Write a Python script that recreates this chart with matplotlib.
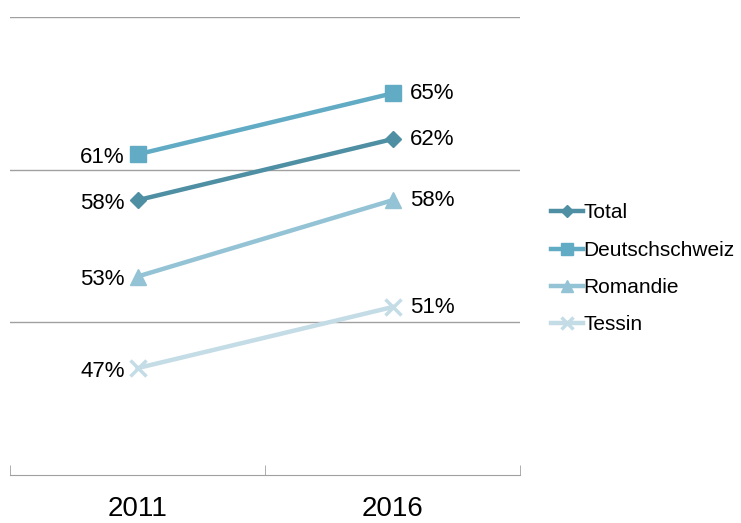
import matplotlib
matplotlib.use("Agg")
import matplotlib.pyplot as plt

plt.rcParams["font.family"] = ["Liberation Sans", "DejaVu Sans"]

years = ["2011", "2016"]
series = ["Total", "Deutschschweiz", "Romandie", "Tessin"]
total = [58, 62]
deutschschweiz = [61, 65]
romandie = [53, 58]
tessin = [47, 51]
values = [total, deutschschweiz, romandie, tessin]

colors = ["#4f8fa3", "#62abc4", "#93c3d5", "#c4dce6"]
markers = ["D", "s", "^", "x"]
msizes = [8, 11, 11, 11]

fig = plt.figure(figsize=(7.41, 5.23), dpi=100)
ax = fig.add_axes([10 / 741, 48 / 523, 510 / 741, 458 / 523])

x = list(range(len(years)))
for name, v, c, m, ms in zip(series, values, colors, markers, msizes):
    ax.plot(x, v, color=c, lw=3.2, marker=m, ms=ms, mew=2.5 if m == "x" else 1,
            mec=c, label=name, zorder=3)
    ax.text(x[0] - 0.05, v[0] - 0.2, f"{v[0]}%", ha="right", va="center", fontsize=16)
    ax.text(x[1] + 0.07, v[1], f"{v[1]}%", ha="left", va="center", fontsize=16)

ax.set_xlim(-0.5, 1.5)
ax.set_ylim(40, 70)
ax.set_yticks([50, 60, 70])
ax.yaxis.grid(True, color="#a0a0a0", lw=1)
ax.tick_params(axis="y", left=False, labelleft=False)
ax.set_xticks(x)
ax.set_xticklabels(years, fontsize=20)
ax.tick_params(axis="x", length=0, pad=15)
ax.set_xticks([-0.5, 0.5, 1.5], minor=True)
ax.tick_params(axis="x", which="minor", length=7, color="#a0a0a0", direction="in")
for s in ["top", "left", "right"]:
    ax.spines[s].set_visible(False)
ax.spines["bottom"].set_color("#a0a0a0")

fig.legend(loc="center left", bbox_to_anchor=(541 / 741, 1 - 269 / 523),
           frameon=False, fontsize=15, handlelength=1.5, handletextpad=0.05,
           labelspacing=0.88, markerscale=0.75, borderpad=0)

fig.savefig("out.png", dpi=100)
